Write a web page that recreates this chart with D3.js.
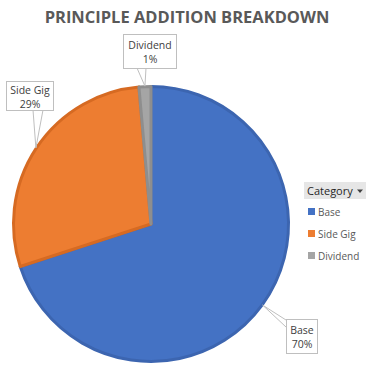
<!DOCTYPE html>
<html>
<head>
<meta charset="utf-8">
<script src="https://cdn.jsdelivr.net/npm/d3@7"></script>
<style>
  body { margin: 0; background: #fff; }
  text { font-family: "Open Sans", "Noto Sans", sans-serif; }
</style>
</head>
<body>
<div id="chart"></div>
<script>
// ---- data ----
const categories = ["Base", "Side Gig", "Dividend"];
const values = [70.0, 28.6, 1.4];
const fills = ["#4472C4", "#ED7D31", "#A5A5A5"];
const borders = ["#3C65B0", "#D66A22", "#8E8E8E"];

const width = 378, height = 378;
const cx = 151, cy = 224, radius = 139;

const svg = d3.select("#chart").append("svg")
  .attr("width", width)
  .attr("height", height);

svg.append("text")
  .attr("x", 187)
  .attr("y", 23)
  .attr("text-anchor", "middle")
  .attr("font-size", "16.5px")
  .attr("font-weight", "bold")
  .attr("fill", "#595959")
  .text("PRINCIPLE ADDITION BREAKDOWN");

const data = categories.map((c, i) => ({ name: c, value: values[i], i }));
const pie = d3.pie().sort(null).value(d => d.value);
const arcs = pie(data);

const g = svg.append("g").attr("transform", `translate(${cx},${cy})`);

const arc = d3.arc().innerRadius(0).outerRadius(radius - 1.5);

g.selectAll("path.slice")
  .data(arcs)
  .enter()
  .append("path")
  .attr("class", "slice")
  .attr("d", arc)
  .attr("fill", d => fills[d.data.i])
  .attr("stroke", d => borders[d.data.i])
  .attr("stroke-width", 3)
  .attr("stroke-linejoin", "round");

// callout labels: box position (absolute) per category
const boxes = [
  { x: 286, y: 319, w: 31, h: 34, ax: [286, 320, 286, 327] },
  { x: 6, y: 81, w: 47, h: 29, ax: [33, 110, 43, 110] },
  { x: 123, y: 34, w: 53, h: 34, ax: [137, 68, 146, 68] }
];

const labelArc = d3.arc().innerRadius(radius - 1).outerRadius(radius - 1);

arcs.forEach(d => {
  const b = boxes[d.data.i];
  const [px, py] = labelArc.centroid(d);
  const tipX = cx + px, tipY = cy + py;
  const [a1x, a1y, a2x, a2y] = b.ax;

  svg.append("path")
    .attr("d", `M${a1x},${a1y}L${tipX},${tipY}L${a2x},${a2y}`)
    .attr("fill", "#fff")
    .attr("stroke", "#BFBFBF")
    .attr("stroke-width", 1);

  svg.append("rect")
    .attr("x", b.x + 0.5)
    .attr("y", b.y + 0.5)
    .attr("width", b.w)
    .attr("height", b.h)
    .attr("fill", "#fff")
    .attr("stroke", "#BFBFBF")
    .attr("stroke-width", 1);

  const pct = Math.round(d.data.value / d3.sum(values) * 100) + "%";
  const t = svg.append("text")
    .attr("text-anchor", "middle")
    .attr("font-size", "10.5px")
    .attr("fill", "#404040");
  t.append("tspan").attr("x", b.x + b.w / 2 + 0.5).attr("y", b.y + b.h / 2 - 2).text(d.data.name);
  t.append("tspan").attr("x", b.x + b.w / 2 + 0.5).attr("y", b.y + b.h / 2 + 12).text(pct);
});

// legend
const legend = svg.append("g").attr("transform", "translate(304,182)");

legend.append("rect")
  .attr("width", 62)
  .attr("height", 17)
  .attr("fill", "#E6E6E6");

legend.append("text")
  .attr("x", 3)
  .attr("y", 12.5)
  .attr("font-size", "11px")
  .attr("fill", "#262626")
  .text("Category");

legend.append("path")
  .attr("d", "M53,7.5L59,7.5L56,11Z")
  .attr("fill", "#404040");

const legendY = d3.scalePoint()
  .domain(categories)
  .range([30, 74]);

const item = legend.selectAll("g.item")
  .data(categories)
  .enter()
  .append("g")
  .attr("class", "item")
  .attr("transform", d => `translate(4,${legendY(d)})`);

item.append("rect")
  .attr("x", 0)
  .attr("y", -4)
  .attr("width", 7)
  .attr("height", 7)
  .attr("fill", (d, i) => fills[i]);

item.append("text")
  .attr("x", 10)
  .attr("y", 3.5)
  .attr("font-size", "10px")
  .attr("fill", "#595959")
  .text(d => d);
</script>
</body>
</html>
